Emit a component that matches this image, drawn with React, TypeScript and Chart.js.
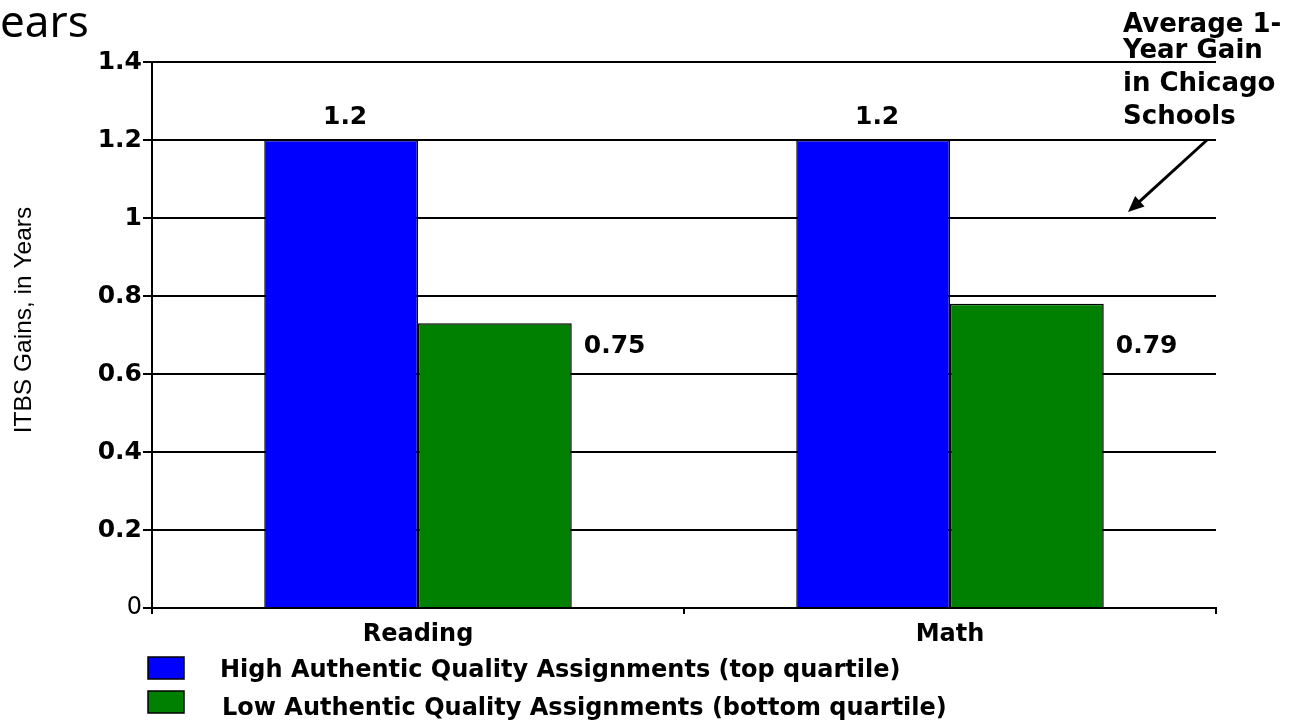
import React, { useEffect, useRef } from "react";
import { Chart, registerables } from "chart.js";

Chart.register(...registerables);

// ---- data ----
const categories = ["Reading", "Math"];
const seriesNames = [
  "High Authentic Quality Assignments (top quartile)",
  "Low Authentic Quality Assignments (bottom quartile)",
];
const highValues = [1.2, 1.2];
const lowValues = [0.73, 0.78];
const highLabels = ["1.2", "1.2"];
const lowLabels = ["0.75", "0.79"];
const yTickLabels = ["0", "0.2", "0.4", "0.6", "0.8", "1", "1.2", "1.4"];
const yTitle = "ITBS Gains, in Years";
const pageTitle = "ears";
const noteLines = ["Average 1-", "Year Gain", "in Chicago", "Schools"];
const colors = ["#0000FF", "#008000"];

const BOLD = "DejaVu Sans";

const extrasPlugin = {
  id: "extras",
  afterDraw(chart: any) {
    const ctx = chart.ctx;
    const yScale = chart.scales.y;
    ctx.save();

    // page title fragment
    ctx.fillStyle = "#000";
    ctx.font = "44px 'Noto Sans'";
    ctx.textAlign = "left";
    ctx.textBaseline = "alphabetic";
    ctx.fillText(pageTitle, 0, 37);

    // y axis title
    ctx.save();
    ctx.translate(24, 320);
    ctx.rotate(-Math.PI / 2);
    ctx.font = "24.5px 'Liberation Sans'";
    ctx.textAlign = "center";
    ctx.textBaseline = "middle";
    ctx.fillText(yTitle, 0, 0);
    ctx.restore();

    // value labels
    ctx.font = `bold 25px '${BOLD}'`;
    const m0 = chart.getDatasetMeta(0);
    const m1 = chart.getDatasetMeta(1);
    m0.data.forEach((bar: any, i: number) => {
      ctx.textAlign = "center";
      ctx.textBaseline = "middle";
      ctx.fillText(highLabels[i], bar.x + 4, bar.y - 23);
    });
    m1.data.forEach((bar: any, i: number) => {
      ctx.textAlign = "left";
      ctx.textBaseline = "middle";
      ctx.fillText(lowLabels[i], bar.x + bar.width / 2 + 12, yScale.getPixelForValue(0.67));
    });

    // annotation
    ctx.font = `bold 26px '${BOLD}'`;
    ctx.textAlign = "left";
    ctx.textBaseline = "alphabetic";
    const baselines = [32, 58, 91, 124];
    noteLines.forEach((t, i) => ctx.fillText(t, 1123, baselines[i]));

    // arrow
    const x1 = 1207, y1 = 140, x2 = 1128, y2 = 212;
    const ang = Math.atan2(y2 - y1, x2 - x1);
    ctx.strokeStyle = "#000";
    ctx.lineWidth = 3;
    ctx.beginPath();
    ctx.moveTo(x1, y1);
    ctx.lineTo(x2 - 8 * Math.cos(ang), y2 - 8 * Math.sin(ang));
    ctx.stroke();
    ctx.beginPath();
    ctx.moveTo(x2, y2);
    ctx.lineTo(x2 - 16 * Math.cos(ang) + 7 * Math.sin(ang), y2 - 16 * Math.sin(ang) - 7 * Math.cos(ang));
    ctx.lineTo(x2 - 16 * Math.cos(ang) - 7 * Math.sin(ang), y2 - 16 * Math.sin(ang) + 7 * Math.cos(ang));
    ctx.closePath();
    ctx.fillStyle = "#000";
    ctx.fill();

    // legend
    const sqTop = [657, 691];
    const txtY = [671, 709];
    const txtX = [220, 222];
    chart.data.datasets.forEach((ds: any, i: number) => {
      ctx.fillStyle = ds.backgroundColor;
      ctx.fillRect(148, sqTop[i], 36, 22);
      ctx.strokeStyle = "#000";
      ctx.lineWidth = 1.5;
      ctx.strokeRect(148, sqTop[i], 36, 22);
      ctx.fillStyle = "#000";
      ctx.font = `bold 24px '${BOLD}'`;
      ctx.textAlign = "left";
      ctx.textBaseline = "middle";
      ctx.fillText(ds.label, txtX[i], txtY[i]);
    });

    ctx.restore();
  },
};

export default function App() {
  const ref = useRef<HTMLCanvasElement>(null);
  useEffect(() => {
    if (!ref.current) return;
    const chart = new Chart(ref.current, {
      type: "bar",
      data: {
        labels: categories,
        datasets: [
          {
            label: seriesNames[0],
            data: highValues,
            backgroundColor: colors[0],
            borderColor: "#000",
            borderWidth: 1.5,
            categoryPercentage: 0.578,
            barPercentage: 1.0,
          },
          {
            label: seriesNames[1],
            data: lowValues,
            backgroundColor: colors[1],
            borderColor: "#000",
            borderWidth: 1.5,
            categoryPercentage: 0.578,
            barPercentage: 1.0,
          },
        ],
      },
      options: {
        responsive: false,
        animation: false,
        layout: { padding: { left: 0, top: 62, right: 81, bottom: 72 } },
        plugins: {
          legend: { display: false },
          title: { display: false },
          tooltip: { enabled: false },
        },
        scales: {
          x: {
            afterFit: (s: any) => {
              s.height = 45;
            },
            grid: {
              drawOnChartArea: false,
              drawTicks: true,
              tickLength: 6,
              offset: true,
              color: "#000",
              lineWidth: 2,
            },
            border: { display: true, color: "#000", width: 2 },
            ticks: {
              color: "#000",
              padding: 6,
              font: { family: BOLD, weight: "bold", size: 24 },
            },
          },
          y: {
            min: 0,
            max: 1.4,
            afterFit: (s: any) => {
              s.width = 152;
            },
            grid: {
              color: "#000",
              lineWidth: 2,
              drawTicks: true,
              tickLength: 9,
            },
            border: { display: true, color: "#000", width: 2 },
            ticks: {
              stepSize: 0.2,
              color: "#000",
              padding: 1,
              callback: (_v: any, i: number) => yTickLabels[i],
              font: (c: any) =>
                c.tick && c.tick.value === 0
                  ? { family: "DejaVu Sans", weight: "normal", size: 24 }
                  : { family: BOLD, weight: "bold", size: 25 },
            },
          },
        },
      },
      plugins: [extrasPlugin],
    });
    return () => chart.destroy();
  }, []);
  return (
    <div style={{ position: "fixed", left: 0, top: 0, width: 1297, height: 725, background: "#fff" }}>
      <canvas ref={ref} width={1297} height={725} />
    </div>
  );
}
